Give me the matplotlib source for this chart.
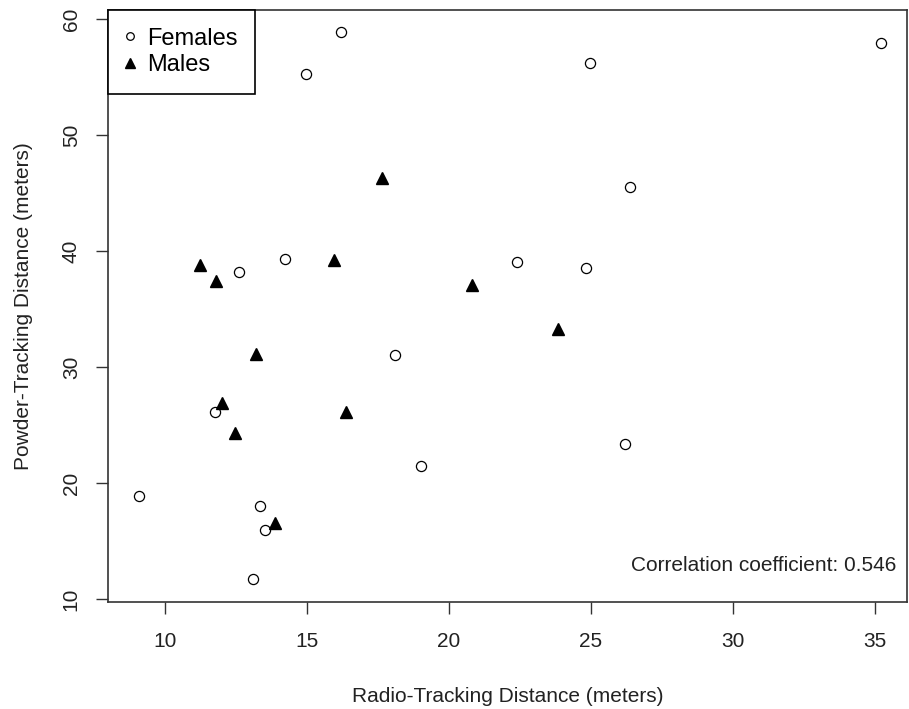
import matplotlib.pyplot as plt

plt.rcParams['font.family'] = ['Liberation Sans', 'DejaVu Sans']

# females (open circles)
female_radio = [9.08, 11.76, 12.59, 13.11, 13.35, 13.52, 14.23, 14.95, 16.19,
                18.09, 19.01, 22.39, 24.83, 24.96, 26.19, 26.38, 35.2]
female_powder = [18.9, 26.1, 38.16, 11.72, 18.04, 15.95, 39.31, 55.3, 58.85,
                 31.03, 21.49, 39.08, 38.51, 56.24, 23.34, 45.52, 57.96]

# males (filled triangles)
male_radio = [11.23, 11.80, 12.0, 12.46, 13.20, 13.87, 15.94, 16.36, 17.65,
              20.80, 23.85]
male_powder = [38.79, 37.44, 26.92, 24.34, 31.12, 16.58, 39.22, 26.15, 46.27,
               37.09, 33.28]

xticks = [10, 15, 20, 25, 30, 35]
yticks = [10, 20, 30, 40, 50, 60]
corr_text = 'Correlation coefficient: 0.546'

fig = plt.figure(figsize=(9.09, 7.09), dpi=100)
ax = fig.add_axes([0.1188, 0.1509, 0.879, 0.835])

ax.plot(female_radio, female_powder, 'o', ms=7.3, mfc='white', mec='black',
        mew=0.9, label='Females')
ax.plot(male_radio, male_powder, '^', ms=9.2, color='black', label='Males')

ax.set_xlim(7.99, 36.13)
ax.set_ylim(9.74, 60.78)
ax.set_xticks(xticks)
ax.set_yticks(yticks)
ax.set_yticklabels([str(t) for t in yticks], rotation=90, va='center')
ax.tick_params(length=8.6, width=1, color='#333333', labelsize=15,
               labelcolor='#222222')
ax.tick_params(axis='x', pad=13)
ax.tick_params(axis='y', pad=11)
for s in ax.spines.values():
    s.set_linewidth(1.2)
    s.set_color('#333333')

ax.set_xlabel('Radio-Tracking Distance (meters)', fontsize=15,
              color='#222222', labelpad=26)
ax.set_ylabel('Powder-Tracking Distance (meters)', fontsize=15,
              color='#222222', labelpad=21)

ax.text(35.77, 12.93, corr_text, ha='right', va='center', fontsize=15,
        color='#222222')

leg = ax.legend(loc='upper left', borderaxespad=0, fancybox=False,
                framealpha=1, edgecolor='black', fontsize=17,
                markerscale=0.75, handlelength=0.4, handletextpad=0.5,
                labelspacing=0.2, borderpad=0.75)
leg.get_frame().set_linewidth(1.2)

fig.savefig('out.png', dpi=100)
